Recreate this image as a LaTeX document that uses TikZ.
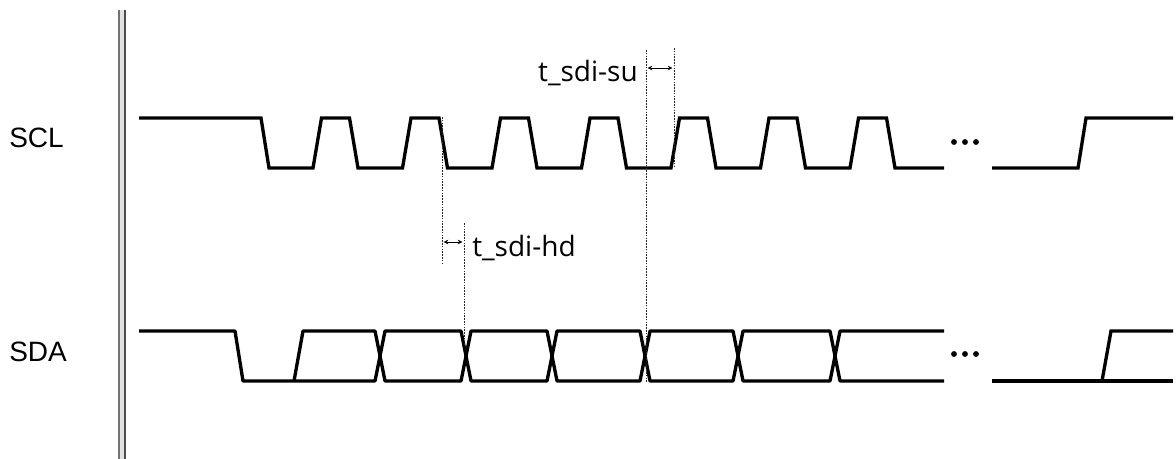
\documentclass[tikz,border=0pt]{standalone}
\usepackage{fontspec}
\setmainfont{Liberation Sans}
\newfontfamily\timingfont{Open Sans}
\usetikzlibrary{arrows.meta}
\begin{document}
\begin{tikzpicture}[x=0.75pt,y=-0.75pt]
      \tikzstyle{wave} = [line width=2.5pt, black]
      \tikzstyle{bus} = [wave, line join=bevel]
      \tikzstyle{marker} = [line width=0.6pt, black!85, dash pattern=on 1.2pt off 0.9pt]
      \tikzstyle{span} = [line width=0.6pt, {Stealth[length=3.5pt,width=3.5pt]}-{Stealth[length=3.5pt,width=3.5pt]}, shorten >=1.2pt, shorten <=1.2pt]
      \tikzstyle{signal} = [font=\fontsize{21}{24}\selectfont, inner sep=0pt]
      \tikzstyle{timing} = [font=\timingfont\fontsize{21}{24}\selectfont, inner sep=0pt]
      \tikzstyle{dot} = [circle, fill=black, inner sep=0pt, minimum size=4.4pt]
        \useasboundingbox (0,0) rectangle (1176,459);
        \fill[black!12] (118,10) rectangle (126,459);
        \draw[black!55, line width=1.1pt] (119,10) -- (119,459);
        \draw[black!70, line width=1.1pt] (125,10) -- (125,459);
          \node[signal, anchor=base west] (scl) at (9,148) {SCL};
          \node[signal, anchor=base west] (sda) at (9,361) {SDA};
          \draw[wave] (139,118) -- (261,118) -- (269,168) -- (313,168)
            foreach \k in {0,...,6} {
              -- ++(8.5,-50) -- ++(28,0) -- ++(8.5,50) -- ++(44.5,0)
            } -- ++(4.5,0);
          \draw[wave] (992,168) -- (1078,168) -- (1086,118) -- (1173,118);
          \draw[bus] (139,331) -- (235,331) -- (243,381) -- (375,381) -- (380,356)
            -- (375,331) -- (303,331) -- (294,381);
          \foreach \a/\b in {380/466, 466/552, 552/645, 645/738, 738/835}{
            \draw[bus] (\a,356) -- (\a+5,331) -- (\b-5,331) -- (\b,356)
              -- (\b-5,381) -- (\a+5,381) -- cycle;
          }
          \draw[bus] (944,331) -- (840,331) -- (835,356) -- (840,381) -- (944,381);
          \draw[wave] (992,381) -- (1173,381);
          \draw[wave] (1102,381) -- (1111,331) -- (1173,331);
          \foreach \i/\x in {1/954, 2/965, 3/976}{
            \node[dot] (scl-dot\i) at (\x,142) {};
            \node[dot] (sda-dot\i) at (\x,354) {};
          }
        \coordinate (su-a) at (646,50);
        \coordinate (su-b) at (646,383);
        \coordinate (su-c) at (674,48);
        \coordinate (su-d) at (674,168);
        \coordinate (su-y) at (0,68);
        \coordinate (hd-a) at (442,117);
        \coordinate (hd-b) at (442,263);
        \coordinate (hd-c) at (464,223);
        \coordinate (hd-d) at (464,345);
        \coordinate (hd-y) at (0,242);
          \draw[marker] (su-a) -- (su-b);
          \draw[marker] (su-c) -- (su-d);
          \draw[marker] (hd-a) -- (hd-b);
          \draw[marker] (hd-c) -- (hd-d);
          \draw[span] (su-a |- su-y) -- (su-c |- su-y);
          \draw[span] (hd-a |- hd-y) -- (hd-c |- hd-y);
          \node[timing, anchor=base east] (su) at (638,82) {t\_sdi-su};
          \node[timing, anchor=base west] (hd) at (472,257) {t\_sdi-hd};
\end{tikzpicture}
\end{document}
